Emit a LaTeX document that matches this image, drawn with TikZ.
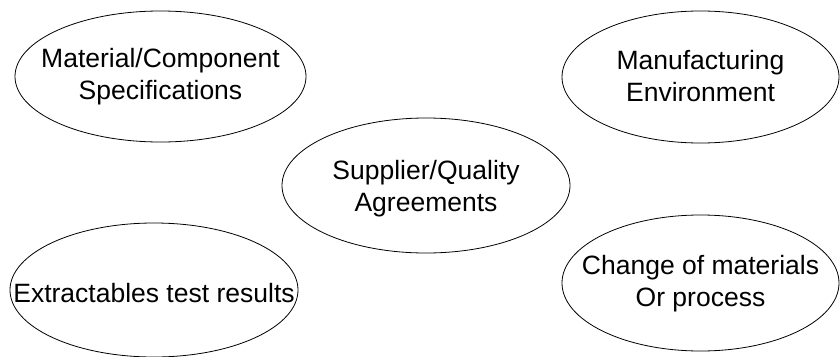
\documentclass[tikz,border=0pt]{standalone}
\usepackage{fontspec}
\setmainfont{Liberation Sans}
\tikzset{
    label text/.style={align=center, inner sep=0pt,
        font=\fontsize{26.5}{31.8}\selectfont}
}
\begin{document}
\begin{tikzpicture}[x=1pt, y=-1pt, line width=.8pt]
    \useasboundingbox (0,0) rectangle (840,356);
    \draw (160.5,76.5) ellipse (145.5 and 65.5);
    \draw (700.5,77) ellipse (138.5 and 66);
    \draw (426,185.5) ellipse (144 and 67.5);
    \draw (154,290) ellipse (144 and 67);
    \draw (700.5,283) ellipse (138.5 and 68);
    \node[label text] (specs) at (160.5,77) {Material/Component\\Specifications};
    \node[label text] (environment) at (700.5,76) {Manufacturing\\Environment};
    \node[label text] (agreements) at (426,189) {Supplier/Quality\\Agreements};
    \node[label text] (extractables) at (154,293) {Extractables test results};
    \node[label text] (change) at (700.5,284) {Change of materials\\Or process};
\end{tikzpicture}
\end{document}
